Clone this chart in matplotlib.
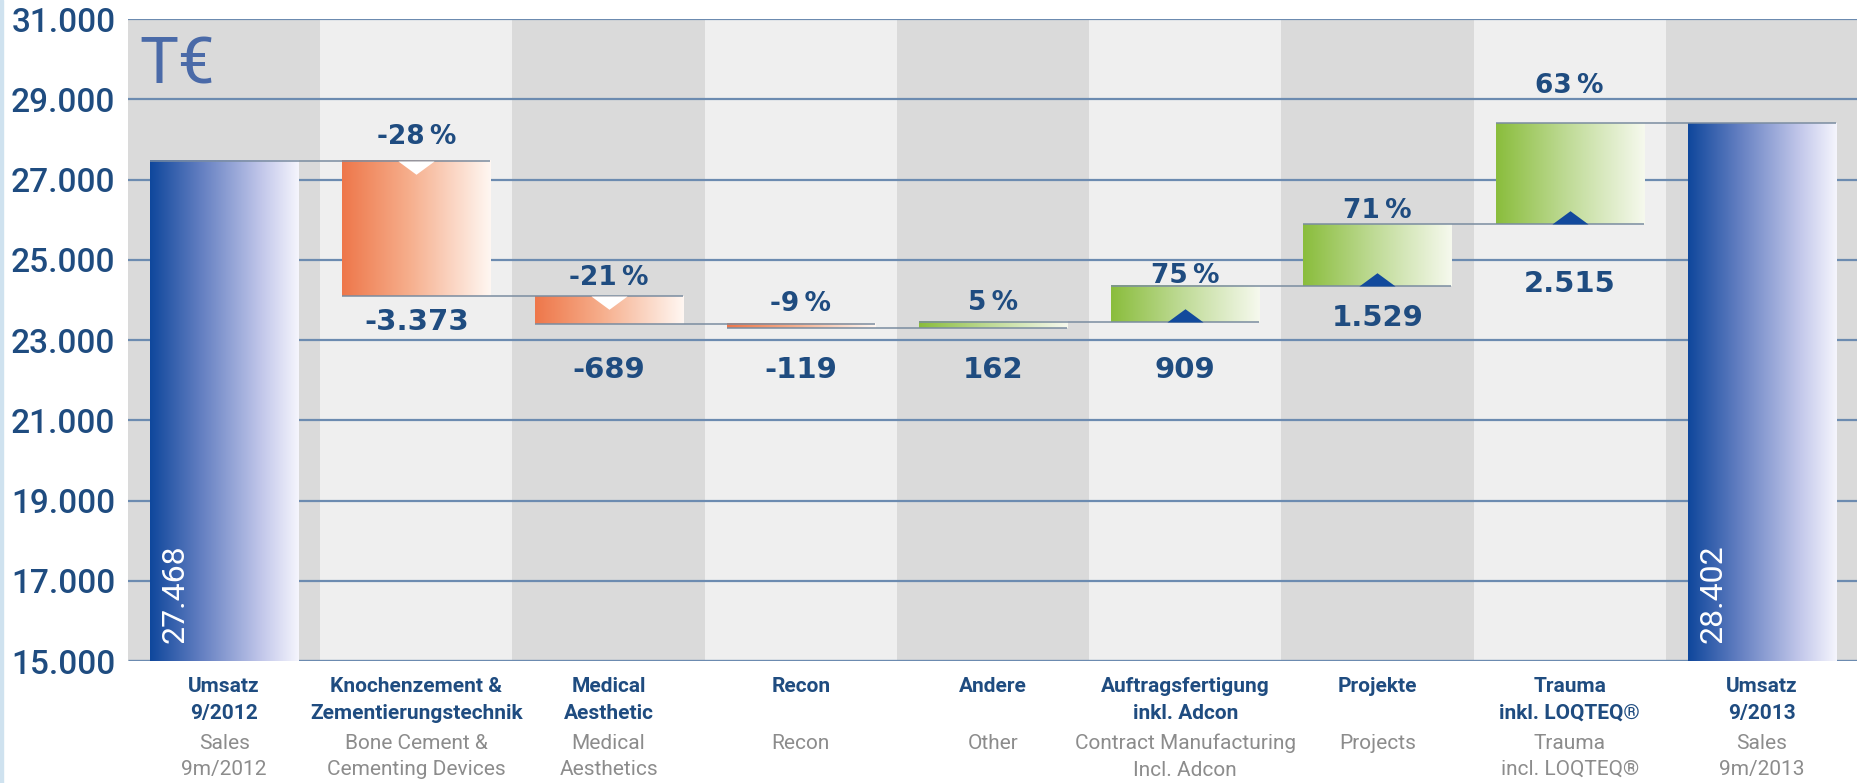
import numpy as np
import matplotlib
matplotlib.use("Agg")
import matplotlib.pyplot as plt
from matplotlib.colors import LinearSegmentedColormap
from matplotlib.patches import Rectangle

# ---- data (T EUR) ----
labels_de = ["Umsatz\n9/2012", "Knochenzement &\nZementierungstechnik", "Medical\nAesthetic",
             "Recon", "Andere", "Auftragsfertigung\ninkl. Adcon", "Projekte",
             "Trauma\ninkl. LOQTEQ®", "Umsatz\n9/2013"]
labels_en = ["Sales\n9m/2012", "Bone Cement &\nCementing Devices", "Medical\nAesthetics",
             "Recon", "Other", "Contract Manufacturing\nIncl. Adcon", "Projects",
             "Trauma\nincl. LOQTEQ®", "Sales\n9m/2013"]
start_value = 27468
end_value = 28402
deltas = [-3373, -689, -119, 162, 909, 1529, 2515]
pct_changes = [-28, -21, -9, 5, 75, 71, 63]
yticks = list(range(15000, 31001, 2000))

# label heights (layout, value units)
pct_label_y = [28060, 24540, 23885, 23912, 24595, 26215, 29330]
val_label_y = [23449, 22252, 22252, 22252, 22252, 23558, 24386]

BLUE_TXT = "#1f4c80"
GRID = "#6c8bb0"
CONN = "#7a8ca0"
W = 0.77

def fmt(v):
    return "{:,}".format(v).replace(",", ".")

blue_cm = LinearSegmentedColormap.from_list("b", [(0, "#0f479c"), (0.35, "#6580c2"), (0.75, "#c2c7ea"), (1, "#f5f5fd")])
red_cm = LinearSegmentedColormap.from_list("r", [(0, "#ee774a"), (0.45, "#f6ae8c"), (1, "#fff7f2")])
green_cm = LinearSegmentedColormap.from_list("g", [(0, "#8abd3c"), (0.45, "#bcd991"), (1, "#f6f9ee")])

def grad_bar(ax, x0, x1, y0, y1, cmap, z=2):
    g = np.linspace(0, 1, 256).reshape(1, -1)
    ax.imshow(g, cmap=cmap, extent=[x0, x1, y0, y1], aspect="auto",
              origin="lower", zorder=z, interpolation="bilinear")

fig = plt.figure(figsize=(18.58, 7.83), dpi=100)
fig.patches.append(Rectangle((0, 0), 3 / 1858, 1, transform=fig.transFigure,
                             color="#cfe2ef", zorder=0))
ax = fig.add_axes([128 / 1858, 1 - 661 / 783, 1 - 128 / 1858, (661 - 19) / 783])

n = len(labels_de)
# column bands
for i in range(n):
    ax.axvspan(i - 0.5, i + 0.5, color="#dadada" if i % 2 == 0 else "#efefef", zorder=0, lw=0)

# gridlines
ax.hlines(yticks[1:], -0.5, n - 0.5, color=GRID, lw=1.6, zorder=1)
ax.hlines(yticks[0], -0.5, n - 0.5, color=GRID, lw=2.4, zorder=1)

# running levels
levels = [start_value]
for d in deltas:
    levels.append(levels[-1] + d)

# start / end bars
grad_bar(ax, -W / 2, W / 2, yticks[0], start_value, blue_cm)
grad_bar(ax, n - 1 - W / 2, n - 1 + W / 2, yticks[0], levels[-1], blue_cm)
for xi, v in [(0, start_value), (n - 1, end_value)]:
    ax.text(xi - W / 2 + 0.13, 15450, fmt(v), rotation=90, color="white",
            ha="center", va="bottom", fontsize=23, family="Roboto", zorder=5)

tri_down = [(-1.36, 0), (1.36, 0), (0, -1), (-1.36, 0)]
tri_up = [(-1.36, 0), (1.36, 0), (0, 1), (-1.36, 0)]

for k, d in enumerate(deltas):
    i = k + 1
    lo, hi = sorted([levels[k], levels[k + 1]])
    grad_bar(ax, i - W / 2, i + W / 2, lo, hi, red_cm if d < 0 else green_cm)
    if abs(d) > 300:
        if d < 0:
            ax.plot(i, hi, marker=tri_down, ms=26, color="white", mec="none", zorder=4)
        else:
            ax.plot(i, lo, marker=tri_up, ms=26, color="#124a9c", mec="none", zorder=4)
    ax.text(i, pct_label_y[k], "{}\u2009%".format(pct_changes[k]), ha="center", va="center",
            fontsize=19, fontweight="bold", color=BLUE_TXT, zorder=5)
    ax.text(i, val_label_y[k], fmt(d), ha="center", va="center",
            fontsize=21, fontweight="bold", color=BLUE_TXT, zorder=5)

# connectors
for i in range(n - 1):
    ax.hlines(levels[i], i - W / 2, i + 1 + W / 2, color=CONN, lw=1.1, zorder=3)

ax.text(-0.44, 29400, "T€", fontsize=47, family="Roboto", color="#4a6aa8",
        ha="left", va="baseline", zorder=5)

# category labels
trans = ax.get_xaxis_transform()
for i in range(n):
    ax.text(i, -0.025, labels_de[i], transform=trans, ha="center", va="top",
            fontsize=15, fontweight="bold", color=BLUE_TXT, linespacing=1.5,
            family="Roboto")
    ax.text(i, -0.113, labels_en[i], transform=trans, ha="center", va="top",
            fontsize=15, color="#8c8c8c", linespacing=1.5, family="Roboto")

ax.set_xlim(-0.5, n - 0.5)
ax.set_ylim(15000, 31000)
ax.set_xticks([])
ax.set_yticks(yticks)
ax.set_yticklabels([fmt(t) for t in yticks], family="Roboto", fontweight="medium",
                   fontsize=24, color=BLUE_TXT)
ax.tick_params(axis="y", length=0, pad=9)
for s in ax.spines.values():
    s.set_visible(False)

fig.savefig("out.png", dpi=100)
